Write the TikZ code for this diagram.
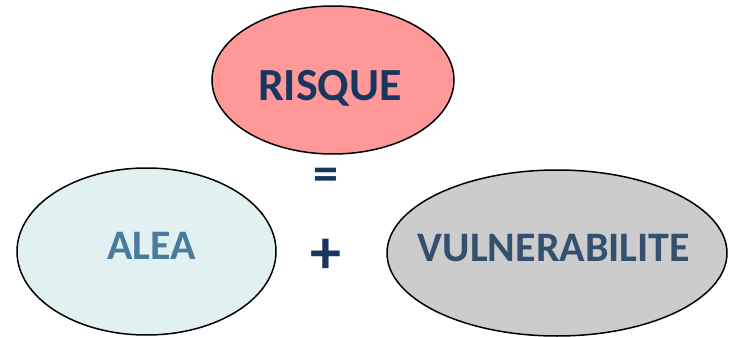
\documentclass[tikz,border=0pt]{standalone}
\usepackage{fontspec}
\setmainfont{Carlito}
\usetikzlibrary{shapes.geometric}
\definecolor{risquefill}{HTML}{FF9999}
\definecolor{aleafill}{HTML}{E1F1F1}
\definecolor{vulnfill}{HTML}{CCCCCC}
\definecolor{navy}{HTML}{17375E}
\definecolor{aleatext}{HTML}{4A7A9C}
\definecolor{vulntext}{HTML}{34506F}
\tikzset{
  blob/.style={ellipse, draw=black, line width=1.5pt, inner sep=0pt},
  word/.style={anchor=base, inner sep=0pt, font=\bfseries\fontsize{42}{42}\selectfont},
  sign/.style={inner sep=0pt, text=navy, font=\bfseries\fontsize{54}{54}\selectfont}
}
\begin{document}
\begin{tikzpicture}[x=1pt,y=-1pt]
\useasboundingbox (0,0) rectangle (729,337);
\node[blob, fill=risquefill, minimum width=242pt, minimum height=148pt] (risque) at (333,80) {};
\node[blob, fill=aleafill, minimum width=259pt, minimum height=167pt] (alea) at (146.5,251.5) {};
\node[blob, fill=vulnfill, minimum width=340pt, minimum height=166pt] (vuln) at (557,253) {};
\node[word, text=navy, font=\bfseries\fontsize{46}{46}\selectfont] (trisque) at (330,100) {RISQUE};
\node[word, text=aleatext] (talea) at (151.5,259) {ALEA};
\node[word, text=vulntext] (tvuln) at (554,261) {VULNERABILITE};
\node[sign, font=\bfseries\fontsize{50}{50}\selectfont] (eq) at (326,179) {=};
\node[sign, font=\bfseries\fontsize{62}{62}\selectfont] (plus) at (325.5,256) {+};
\end{tikzpicture}
\end{document}
